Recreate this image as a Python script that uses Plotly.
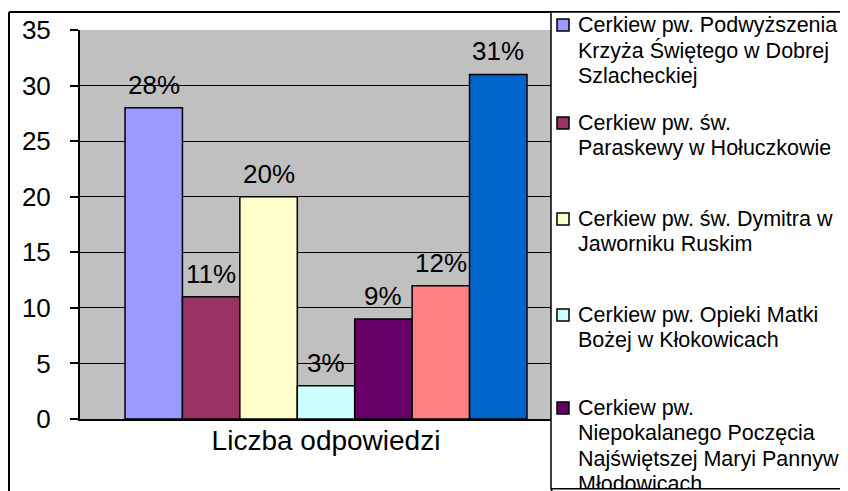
import plotly.graph_objects as go

# ---- data ----
category = ["Liczba odpowiedzi"]
series_names = [
    "Cerkiew pw. Podwyższenia Krzyża Świętego w Dobrej Szlacheckiej",
    "Cerkiew pw. św. Paraskewy w Hołuczkowie",
    "Cerkiew pw. św. Dymitra w Jaworniku Ruskim",
    "Cerkiew pw. Opieki Matki Bożej w Kłokowicach",
    "Cerkiew pw. Niepokalanego Poczęcia Najświętszej Maryi Panny w Młodowicach",
    "Seria 6",
    "Seria 7",
]
legend_lines = [
    ["Cerkiew pw. Podwyższenia", "Krzyża Świętego w Dobrej", "Szlacheckiej"],
    ["Cerkiew pw. św.", "Paraskewy w Hołuczkowie"],
    ["Cerkiew pw. św. Dymitra w", "Jaworniku Ruskim"],
    ["Cerkiew pw. Opieki Matki", "Bożej w Kłokowicach"],
    ["Cerkiew pw.", "Niepokalanego Poczęcia", "Najświętszej Maryi Pannyw", "Młodowicach"],
]
values = [28, 11, 20, 3, 9, 12, 31]
labels = ["28%", "11%", "20%", "3%", "9%", "12%", "31%"]
colors = ["#9999FF", "#993366", "#FFFFCC", "#CCFFFF", "#660066", "#FF8080", "#0066CC"]
y_ticks = [0, 5, 10, 15, 20, 25, 30, 35]

# the page body has an 8px margin, so the figure is sized to fit the window
OX, OY = 8, 8
W, H = 840, 483
FONT = "Arial, Liberation Sans, sans-serif"
bargap = 0.183


def px(x):
    return (x - OX) / W


def py(y):
    return 1 - (y - OY) / H


fig = go.Figure()
for name, v, c in zip(series_names, values, colors):
    fig.add_trace(go.Bar(
        x=category, y=[v], name=name,
        marker=dict(color=c, line=dict(color="black", width=1.5)),
        showlegend=False,
    ))

# data labels above bars
n = len(values)
w = (1 - bargap) / n
annotations = []
for i, (v, lab) in enumerate(zip(values, labels)):
    annotations.append(dict(
        x=(i - (n - 1) / 2) * w, y=v, xref="x", yref="y", text=lab,
        showarrow=False, yshift=23, yanchor="middle", xanchor="center",
        font=dict(family=FONT, size=26, color="black"),
    ))

shapes = []
# outer chart border
shapes.append(dict(type="line", xref="paper", yref="paper", x0=px(9), x1=px(9), y0=py(12), y1=py(500),
                   line=dict(color="black", width=2)))
shapes.append(dict(type="line", xref="paper", yref="paper", x0=px(9), x1=px(841), y0=py(12), y1=py(12),
                   line=dict(color="black", width=2)))
shapes.append(dict(type="line", xref="paper", yref="paper", x0=px(841), x1=px(841), y0=py(12), y1=py(500),
                   line=dict(color="black", width=2)))
# legend box
shapes.append(dict(type="rect", xref="paper", yref="paper", x0=px(551), x1=px(841), y0=py(489), y1=py(12),
                   fillcolor="white", line=dict(color="black", width=1.5), layer="above"))

entry_tops = [25, 123, 219, 315, 408]
line_h = 25.3
for k, (lines, top) in enumerate(zip(legend_lines, entry_tops)):
    shapes.append(dict(type="rect", xref="paper", yref="paper",
                       x0=px(557), x1=px(569), y0=py(top + 6), y1=py(top - 6),
                       fillcolor=colors[k], line=dict(color="black", width=1.5), layer="above"))
    for j, t in enumerate(lines):
        annotations.append(dict(
            x=px(576), y=py(top + j * line_h), xref="paper", yref="paper", text=t,
            showarrow=False, xanchor="left", yanchor="middle",
            font=dict(family=FONT, size=21.5, color="black"),
        ))

# bottom edge of the legend box, covering the overflowing last line (clipping effect)
annotations.append(dict(
    x=px(551), y=py(488), xref="paper", yref="paper", text=" ",
    showarrow=False, xanchor="left", yanchor="top",
    width=288, height=14, bgcolor="white", bordercolor="black", borderwidth=1.5, borderpad=0,
    font=dict(size=2),
))

fig.update_layout(
    width=W, height=H,
    margin=dict(l=0, r=0, t=0, b=0, autoexpand=False),
    paper_bgcolor="white",
    plot_bgcolor="#C0C0C0",
    barmode="group", bargap=bargap, bargroupgap=0,
    showlegend=False,
    shapes=shapes,
    annotations=annotations,
    xaxis=dict(
        domain=[px(80), px(572)],
        showline=True, linecolor="black", linewidth=2,
        showgrid=False, ticks="", automargin=False,
        tickfont=dict(family=FONT, size=28, color="black"),
        ticklabelstandoff=-5,
    ),
    yaxis=dict(
        domain=[py(419), py(30)],
        range=[0, 35], tickvals=y_ticks,
        showline=True, linecolor="black", linewidth=2,
        showgrid=True, gridcolor="black", gridwidth=1,
        ticks="outside", ticklen=8, tickcolor="black", tickwidth=1.5,
        tickfont=dict(family=FONT, size=26, color="black"),
        ticklabelstandoff=14, automargin=False, zeroline=False,
    ),
)

fig.write_html("out.html")
